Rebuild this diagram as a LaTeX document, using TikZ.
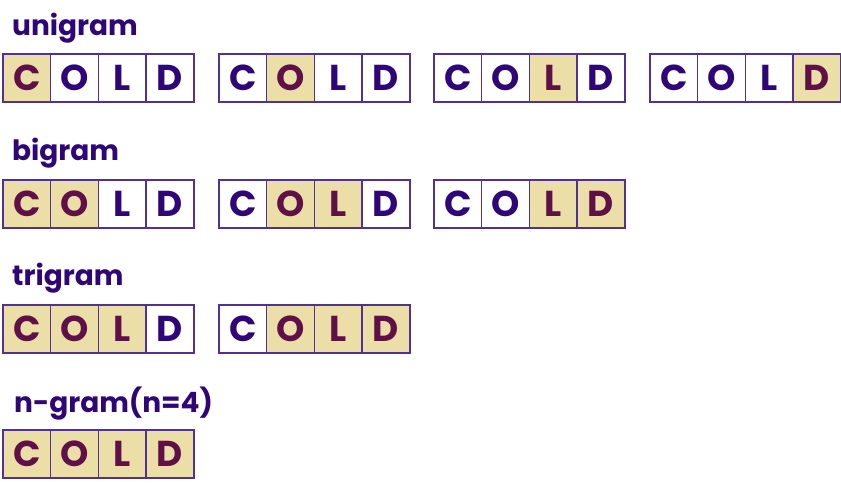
\documentclass[tikz,border=0pt]{standalone}
\usepackage{fontspec}
\setmainfont{Poppins}
\definecolor{txt}{RGB}{46,6,120}
\definecolor{hitxt}{RGB}{96,16,72}
\definecolor{hifill}{RGB}{236,222,167}
\definecolor{bord}{RGB}{80,50,150}
\tikzset{
  cell/.style={draw=bord, line width=1.7pt, minimum width=47.75pt, minimum height=48pt,
    inner sep=0pt, anchor=north west, font=\fontsize{36}{36}\selectfont\bfseries},
  hl0/.style={fill=white, text=txt},
  hl1/.style={fill=hifill, text=hitxt},
  lab/.style={anchor=west, inner sep=0pt, text=txt, font=\fontsize{28}{28}\selectfont\bfseries}
}
\newcommand\coldgroup[7]{%
  \foreach \l/\f [count=\i] in {C/#4,O/#5,L/#6,D/#7} {
    \node[cell, hl\f] (#1\i) at ({#2+(\i-1)*47.75},#3) {\l};
  }
}
\begin{document}
\begin{tikzpicture}[x=1pt,y=-1pt]
\useasboundingbox (0,0) rectangle (841,484);
\node[lab] (l1) at (12,28) {unigram};
\coldgroup{ua}{2}{53}{1}{0}{0}{0}
\coldgroup{ub}{218}{53}{0}{1}{0}{0}
\coldgroup{uc}{433}{53}{0}{0}{1}{0}
\coldgroup{ud}{649}{53}{0}{0}{0}{1}
\node[lab] (l2) at (12,153) {bigram};
\coldgroup{ba}{2}{179}{1}{1}{0}{0}
\coldgroup{bb}{218}{179}{0}{1}{1}{0}
\coldgroup{bc}{433}{179}{0}{0}{1}{1}
\node[lab] (l3) at (12,278) {trigram};
\coldgroup{ta}{2}{304}{1}{1}{1}{0}
\coldgroup{tb}{218}{304}{0}{1}{1}{1}
\node[lab] (l4) at (14,404) {n-gram(n=4)};
\coldgroup{na}{2}{429}{1}{1}{1}{1}
\end{tikzpicture}
\end{document}
